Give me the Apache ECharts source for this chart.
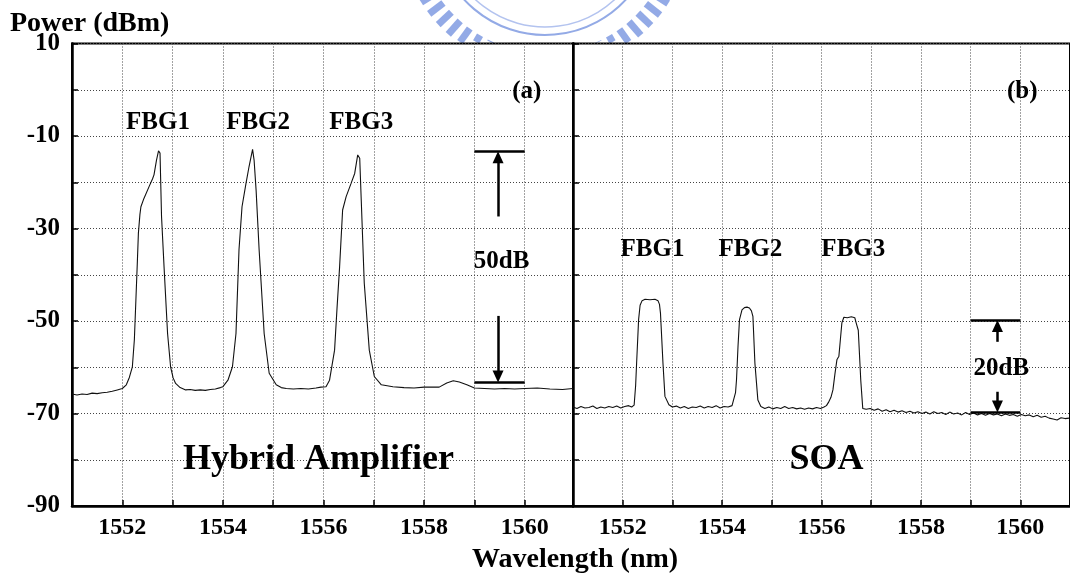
<!DOCTYPE html>
<html>
<head>
<meta charset="utf-8">
<script src="https://cdn.jsdelivr.net/npm/echarts@6/dist/echarts.min.js"></script>
<style>
  html, body { margin: 0; padding: 0; background: #fff; }
  #chart { width: 1070px; height: 578px; }
</style>
</head>
<body>
<div id="chart"></div>
<script>
// Output spectrum after the hybrid amplifier (panel a)
const hybridWavelength = [
  1551.00, 1551.10, 1551.20, 1551.30, 1551.40, 1551.50, 1551.60, 1551.70, 1551.80, 1551.90,
  1552.00, 1552.08, 1552.14, 1552.20, 1552.24, 1552.27, 1552.30, 1552.32, 1552.35, 1552.37,
  1552.43, 1552.53, 1552.60, 1552.63, 1552.68, 1552.72, 1552.75, 1552.78, 1552.83, 1552.90,
  1552.96, 1553.01, 1553.06, 1553.15, 1553.26, 1553.35, 1553.45, 1553.55, 1553.65, 1553.75,
  1553.85, 1553.95, 1554.00, 1554.10, 1554.19, 1554.26, 1554.32, 1554.38, 1554.46, 1554.52,
  1554.59, 1554.62, 1554.66, 1554.72, 1554.82, 1554.92, 1555.06, 1555.16, 1555.26, 1555.40,
  1555.55, 1555.70, 1555.85, 1555.95, 1556.05, 1556.12, 1556.22, 1556.27, 1556.32, 1556.38,
  1556.45, 1556.55, 1556.62, 1556.68, 1556.72, 1556.75, 1556.81, 1556.91, 1557.01, 1557.15,
  1557.38, 1557.60, 1557.80, 1558.00, 1558.15, 1558.30, 1558.45, 1558.58, 1558.70, 1558.85,
  1559.00, 1559.20, 1559.40, 1559.60, 1559.80, 1560.00, 1560.25, 1560.50, 1560.75, 1560.96
];
const hybridPower = [
  -65.8, -66.0, -65.8, -65.9, -65.6, -65.7, -65.5, -65.4, -65.2, -64.9,
  -64.6, -63.8, -62.2, -59.9, -54.0, -45.5, -37.0, -31.0, -27.0, -25.3,
  -23.5, -21.0, -19.3, -18.4, -15.2, -13.2, -13.7, -27.4, -38.3, -52.7,
  -59.9, -62.3, -63.5, -64.4, -64.9, -64.8, -65.0, -64.9, -65.0, -64.8,
  -64.7, -64.4, -64.2, -62.8, -59.9, -52.7, -34.6, -25.3, -20.2, -16.6,
  -12.9, -15.2, -21.7, -34.6, -52.7, -61.3, -63.8, -64.4, -64.6, -64.7,
  -64.6, -64.7, -64.5, -64.3, -64.2, -62.8, -56.3, -47.0, -38.3, -26.0,
  -23.1, -20.2, -18.1, -14.1, -14.8, -23.8, -41.8, -56.3, -62.0, -63.8,
  -64.2, -64.4, -64.5, -64.3, -64.3, -64.3, -63.4, -62.9, -63.2, -63.8,
  -64.5, -64.6, -64.7, -64.6, -64.7, -64.6, -64.5, -64.7, -64.8, -64.6
];

// Output spectrum after the SOA (panel b)
const soaWavelength = [
  1551.00, 1551.08, 1551.16, 1551.24, 1551.32, 1551.40, 1551.48, 1551.56, 1551.64, 1551.72,
  1551.80, 1551.88, 1551.96, 1552.04, 1552.12, 1552.18, 1552.23, 1552.26, 1552.28, 1552.32,
  1552.35, 1552.39, 1552.45, 1552.55, 1552.65, 1552.71, 1552.74, 1552.76, 1552.81, 1552.85,
  1552.93, 1553.00, 1553.08, 1553.16, 1553.24, 1553.32, 1553.40, 1553.48, 1553.56, 1553.64,
  1553.72, 1553.80, 1553.88, 1553.96, 1554.04, 1554.12, 1554.20, 1554.24, 1554.27, 1554.29,
  1554.32, 1554.35, 1554.40, 1554.45, 1554.50, 1554.55, 1554.59, 1554.62, 1554.66, 1554.72,
  1554.78, 1554.86, 1554.94, 1555.02, 1555.10, 1555.18, 1555.26, 1555.34, 1555.42, 1555.50,
  1555.58, 1555.66, 1555.74, 1555.82, 1555.90, 1555.98, 1556.05, 1556.10, 1556.14, 1556.19,
  1556.23, 1556.27, 1556.31, 1556.35, 1556.38, 1556.41, 1556.45, 1556.52, 1556.60, 1556.67,
  1556.70, 1556.74, 1556.79, 1556.83, 1556.90, 1556.98, 1557.06, 1557.14, 1557.22, 1557.30,
  1557.38, 1557.46, 1557.54, 1557.62, 1557.70, 1557.78, 1557.86, 1557.94, 1558.02, 1558.10,
  1558.18, 1558.26, 1558.34, 1558.42, 1558.50, 1558.58, 1558.66, 1558.74, 1558.82, 1558.90,
  1558.98, 1559.06, 1559.14, 1559.22, 1559.30, 1559.38, 1559.46, 1559.54, 1559.62, 1559.70,
  1559.78, 1559.86, 1559.94, 1560.02, 1560.10, 1560.18, 1560.26, 1560.34, 1560.42, 1560.50,
  1560.58, 1560.66, 1560.74, 1560.82, 1560.90, 1560.98
];
const soaPower = [
  -68.6, -68.9, -68.5, -68.8, -68.7, -68.4, -68.9, -68.6, -68.8, -68.5,
  -68.7, -68.4, -68.8, -68.5, -68.3, -68.6, -68.2, -64.0, -59.1, -49.7,
  -46.6, -45.6, -45.3, -45.4, -45.3, -45.6, -46.4, -48.3, -59.1, -66.3,
  -68.1, -68.6, -68.4, -68.8, -68.5, -68.9, -68.6, -68.7, -68.4, -68.8,
  -68.5, -68.7, -68.3, -68.8, -68.5, -68.6, -68.3, -68.0, -65.5, -62.7,
  -55.5, -49.7, -47.6, -47.1, -47.0, -47.2, -47.8, -49.0, -59.1, -67.1,
  -68.5, -68.9, -68.6, -69.0, -68.7, -68.9, -68.5, -68.9, -68.7, -69.0,
  -68.8, -69.1, -68.8, -69.0, -68.7, -68.9, -68.6, -68.3, -67.6, -66.5,
  -64.9, -61.5, -58.4, -57.6, -54.0, -50.4, -49.2, -49.3, -49.1, -49.3,
  -50.5, -52.0, -62.8, -68.9, -69.1, -68.9, -69.3, -69.0, -69.5, -69.2,
  -69.6, -69.3, -69.7, -69.4, -69.8, -69.5, -69.9, -69.6, -70.0, -69.7,
  -70.1, -69.6, -70.0, -69.8, -70.2, -69.7, -70.1, -69.9, -70.3, -69.8,
  -70.2, -69.9, -70.3, -70.0, -70.4, -70.0, -70.3, -70.1, -70.5, -70.1,
  -70.4, -70.2, -70.6, -70.2, -70.5, -70.3, -70.7, -70.4, -70.8, -70.6,
  -71.0, -71.2, -71.4, -70.9, -71.1, -71.0
];

// Axis tick labels
const wavelengthTickLabels = [1552, 1554, 1556, 1558, 1560];
const powerTickLabels = [10, -10, -30, -50, -70, -90];

// Grating peak annotations
const peakNames = ['FBG1', 'FBG2', 'FBG3'];
const hybridPeakLabelWl = [1552.71, 1554.70, 1556.75];
const hybridPeakLabelPower = [-7.0, -7.0, -7.0];
const soaPeakLabelWl = [1552.60, 1554.57, 1556.64];
const soaPeakLabelPower = [-34.6, -34.6, -34.6];

// Peak-to-floor range markers: bar span, [floor, peak] levels, arrow tails [lower, upper]
const rangeBarWl = [1559, 1560];
const hybridRangeLevels = [-63.3, -13.3];
const hybridArrowWl = 1559.47;
const hybridArrowTails = [-48.9, -27.4];
const hybridRangeText = '50dB';
const hybridRangeTextPos = [1559.54, -37.1];
const soaRangeLevels = [-69.8, -49.8];
const soaArrowWl = 1559.54;
const soaArrowTails = [-65.3, -54.5];
const soaRangeText = '20dB';
const soaRangeTextPos = [1559.62, -60.2];

// Panel captions
const panelTags = ['(a)', '(b)'];
const panelTagPos = [1560.04, -0.4];
const panelNames = ['Hybrid Amplifier', 'SOA'];
const panelNamePos = [[1555.90, -80.0], [1556.10, -80.0]];

const FONT = "'Liberation Serif', 'Times New Roman', serif";
const chart = echarts.init(document.getElementById('chart'), null, { renderer: 'canvas' });

function xAxisFor(gridIndex, max) {
  return {
    type: 'value', gridIndex, min: 1551, max, interval: 1,
    axisLine: { show: true, onZero: false, lineStyle: { color: '#000', width: 2.5 } },
    axisTick: { show: true, inside: true, length: 6, lineStyle: { color: '#000', width: 1.5 } },
    axisLabel: {
      formatter: v => (wavelengthTickLabels.includes(v) ? String(v) : ''),
      fontFamily: FONT, fontWeight: 'bold', fontSize: 24, color: '#000', margin: 10,
      showMaxLabel: false
    },
    splitLine: { show: true, lineStyle: { color: '#444', width: 1, type: [1, 2] } }
  };
}
function yAxisFor(gridIndex, showLabels) {
  return {
    type: 'value', gridIndex, min: -90, max: 10, interval: 10,
    axisLine: { show: true, onZero: false, lineStyle: { color: '#000', width: 2.5 } },
    axisTick: { show: true, inside: true, length: 6, lineStyle: { color: '#000', width: 1.5 } },
    axisLabel: {
      show: showLabels,
      formatter: v => (powerTickLabels.includes(v) ? String(v) : ''),
      fontFamily: FONT, fontWeight: 'bold', fontSize: 25, color: '#000', margin: 12
    },
    splitLine: { show: true, lineStyle: { color: '#444', width: 1, type: [1, 2] } }
  };
}

function pairs(xs, ys) { return xs.map((x, i) => [x, ys[i]]); }

function rangeMarker(levels, arrowWl, tails) {
  const head = 1.3; // keeps the arrow tip on the bar
  return {
    silent: true, animation: false, symbol: 'none',
    label: { show: false },
    lineStyle: { color: '#000', width: 2.5, type: 'solid' },
    emphasis: { disabled: true },
    data: [
      [{ coord: [rangeBarWl[0], levels[1]] }, { coord: [rangeBarWl[1], levels[1]] }],
      [{ coord: [rangeBarWl[0], levels[0]] }, { coord: [rangeBarWl[1], levels[0]] }],
      [{ coord: [arrowWl, tails[1]], symbol: 'none' },
       { coord: [arrowWl, levels[1] - head], symbol: 'triangle', symbolSize: [11, 12] }],
      [{ coord: [arrowWl, tails[0]], symbol: 'none' },
       { coord: [arrowWl, levels[0] + head], symbol: 'triangle', symbolSize: [11, 12] }]
    ]
  };
}

function textItems(texts, xs, ys, size) {
  return texts.map((t, i) => ({
    value: [xs[i], ys[i]],
    label: { formatter: t, fontSize: size, color: '#000', opacity: 1 }
  }));
}
function textSeries(gridIndex, items) {
  return {
    type: 'scatter', xAxisIndex: gridIndex, yAxisIndex: gridIndex,
    symbolSize: 0, silent: true, z: 10, animation: false,
    itemStyle: { opacity: 1, color: '#000' },
    label: {
      show: true, position: [0, 0], align: 'center', verticalAlign: 'middle',
      fontFamily: FONT, fontWeight: 'bold', color: '#000', opacity: 1, textBorderWidth: 0
    },
    emphasis: { disabled: true },
    data: items
  };
}

// Faint emblem arc peeking above the plot frame
const emblem = [];
(function () {
  const cx = 545, cy = -75, rIn = 128, rOut = 146, clipY = 42;
  for (let a = -80; a <= 80; a += 5.5) {
    const t = a * Math.PI / 180;
    const s = Math.sin(t), c = Math.cos(t);
    const y1 = cy + rIn * c, y2 = cy + rOut * c;
    if (y1 >= clipY) continue;
    let r2 = rOut;
    if (y2 > clipY) r2 = (clipY - cy) / c;
    emblem.push({
      type: 'line', silent: true, z: -1,
      shape: { x1: cx + rIn * s, y1: y1, x2: cx + r2 * s, y2: cy + r2 * c },
      style: { stroke: '#93aae6', lineWidth: 7 }
    });
  }
  emblem.push({ type: 'arc', silent: true, z: -1,
    shape: { cx, cy, r: 110, startAngle: 0.7, endAngle: Math.PI - 0.7 },
    style: { stroke: '#93aae6', lineWidth: 2, fill: null } });
  emblem.push({ type: 'arc', silent: true, z: -1,
    shape: { cx, cy, r: 102, startAngle: 0.65, endAngle: Math.PI - 0.65 },
    style: { stroke: '#b3c3ef', lineWidth: 1.5, fill: null } });
})();

const option = {
  animation: false,
  backgroundColor: '#fff',
  title: [
    { text: 'Power (dBm)', left: 10, top: 10, padding: 0,
      textStyle: { fontFamily: FONT, fontWeight: 'bold', fontSize: 28, color: '#000' } },
    { text: 'Wavelength (nm)', left: 472, top: 546, padding: 0,
      textStyle: { fontFamily: FONT, fontWeight: 'bold', fontSize: 28, color: '#000' } }
  ],
  graphic: emblem,
  grid: [
    { left: 72, top: 43.5, width: 501, height: 462.5, show: true, borderColor: '#000', borderWidth: 2 },
    { left: 573, top: 43.5, width: 503, height: 462.5, show: true, borderColor: '#000', borderWidth: 2 }
  ],
  xAxis: [xAxisFor(0, 1560.96), xAxisFor(1, 1561)],
  yAxis: [yAxisFor(0, true), yAxisFor(1, false)],
  series: [
    {
      type: 'line', xAxisIndex: 0, yAxisIndex: 0, showSymbol: false, symbol: 'none',
      lineStyle: { color: '#111', width: 1.1 }, data: pairs(hybridWavelength, hybridPower),
      markLine: rangeMarker(hybridRangeLevels, hybridArrowWl, hybridArrowTails)
    },
    {
      type: 'line', xAxisIndex: 1, yAxisIndex: 1, showSymbol: false, symbol: 'none',
      lineStyle: { color: '#111', width: 1.1 }, data: pairs(soaWavelength, soaPower),
      markLine: rangeMarker(soaRangeLevels, soaArrowWl, soaArrowTails)
    },
    textSeries(0, textItems(peakNames, hybridPeakLabelWl, hybridPeakLabelPower, 25)
      .concat(textItems([hybridRangeText, panelTags[0]], [hybridRangeTextPos[0], panelTagPos[0]], [hybridRangeTextPos[1], panelTagPos[1]], 25))
      .concat(textItems([panelNames[0]], [panelNamePos[0][0]], [panelNamePos[0][1]], 36))),
    textSeries(1, textItems(peakNames, soaPeakLabelWl, soaPeakLabelPower, 25)
      .concat(textItems([soaRangeText, panelTags[1]], [soaRangeTextPos[0], panelTagPos[0]], [soaRangeTextPos[1], panelTagPos[1]], 25))
      .concat(textItems([panelNames[1]], [panelNamePos[1][0]], [panelNamePos[1][1]], 36)))
  ]
};
chart.setOption(option);
</script>
</body>
</html>
